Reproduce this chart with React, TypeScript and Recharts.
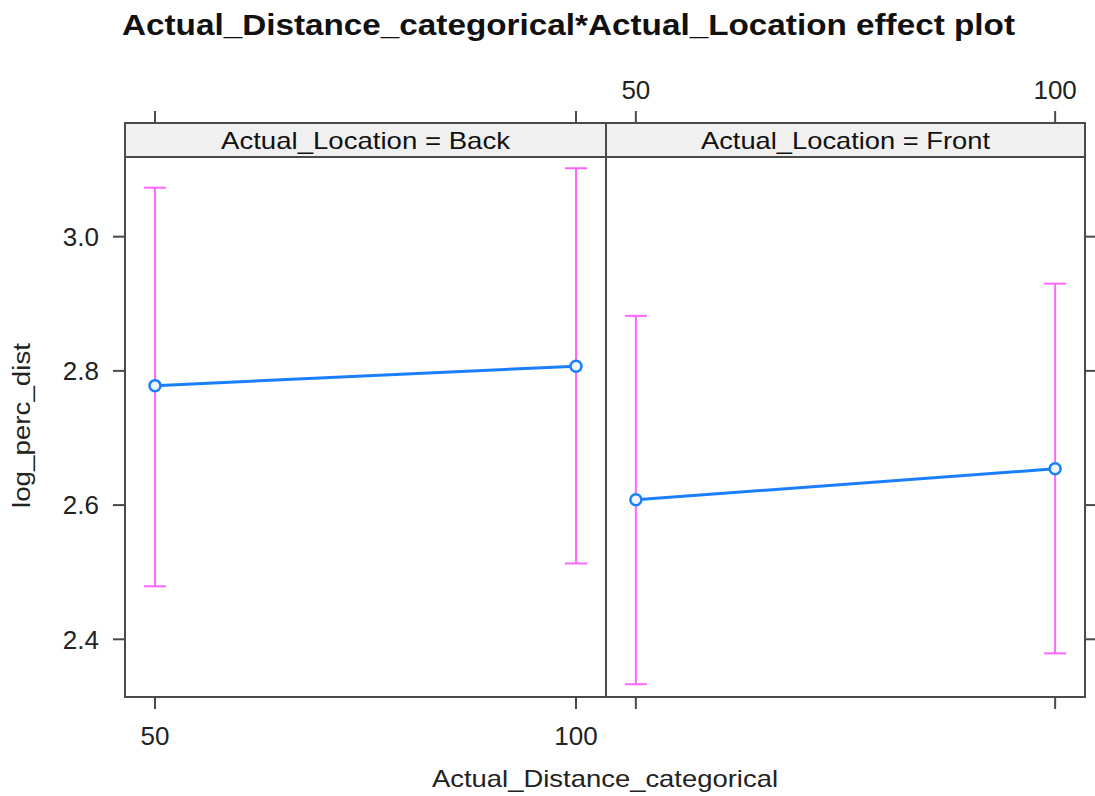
import React from "react";
import { ComposedChart, Line, XAxis, YAxis, ErrorBar, ReferenceArea } from "recharts";

// ---- data ----
const distances = [50, 100];
const backFit = [2.778, 2.807];
const backLower = [2.479, 2.513];
const backUpper = [3.073, 3.102];
const frontFit = [2.608, 2.654];
const frontLower = [2.333, 2.379];
const frontUpper = [2.882, 2.93];
const yTicks = [2.4, 2.6, 2.8, 3.0];
const xTicks = [50, 100];
const panelLabels = ["Actual_Location = Back", "Actual_Location = Front"];
const title = "Actual_Distance_categorical*Actual_Location effect plot";
const xLabel = "Actual_Distance_categorical";
const yLabel = "log_perc_dist";

const X_MIN = 46.44;
const X_MAX = 103.56;
const Y_MIN = 2.314;
const Y_MAX = 3.1694;
const STRIP_LOW = 3.1188;

const FONT = "'Liberation Sans', Arial, Helvetica, sans-serif";
const BORDER = "#4a4a4a";
const BLUE = "#1a7fff";
const MAGENTA = "#ff66ff";
const TICK_FS = 26;

const makeData = (fit: number[], lo: number[], up: number[]) =>
  distances.map((d, i) => ({ x: d, fit: fit[i], err: [fit[i] - lo[i], up[i] - fit[i]] }));

const backData = makeData(backFit, backLower, backUpper);
const frontData = makeData(frontFit, frontLower, frontUpper);

const noTick = () => <g />;

const leftYTick = (p: any) => (
  <text x={p.x} y={p.y} dy="0.36em" textAnchor="end" fontFamily={FONT} fontSize={TICK_FS} fill="#222">
    {Number(p.payload.value).toFixed(1)}
  </text>
);
const bottomXTick = (p: any) => (
  <text x={p.x} y={p.y} dy="0.72em" textAnchor="middle" fontFamily={FONT} fontSize={TICK_FS} fill="#222">
    {p.payload.value}
  </text>
);
const topXTick = (p: any) => (
  <text x={p.x} y={p.y} textAnchor="middle" fontFamily={FONT} fontSize={TICK_FS} fill="#222">
    {p.payload.value}
  </text>
);

const stripLabel = (text: string) => (props: any) => {
  const vb = props.viewBox || {};
  const cx = (vb.x ?? 0) + (vb.width ?? 0) / 2;
  const by = (vb.y ?? 0) + (vb.height ?? 0) / 2 + 9;
  return (
    <text
      x={cx}
      y={by}
      textAnchor="middle"
      fontFamily={FONT}
      fontSize={24}
      fill="#111"
      textLength={289}
      lengthAdjust="spacingAndGlyphs"
    >
      {text}
    </text>
  );
};

function Panel({ data, label, side }: { data: any[]; label: string; side: "left" | "right" }) {
  const isLeft = side === "left";
  const chartW = isLeft ? 620 : 520;
  const m = isLeft ? { top: 83, left: 55, right: 14, bottom: 59 } : { top: 83, left: 10, right: 11, bottom: 59 };
  const yId = isLeft ? "yl" : "yr";
  const tickLine = { stroke: BORDER, strokeWidth: 2 };
  return (
    <ComposedChart width={chartW} height={796} data={data} margin={m}>
      <XAxis
        xAxisId="bottom"
        dataKey="x"
        type="number"
        domain={[X_MIN, X_MAX]}
        ticks={xTicks}
        allowDataOverflow
        orientation="bottom"
        height={40}
        axisLine={false}
        tickLine={tickLine}
        tickSize={12}
        tickMargin={17}
        tick={isLeft ? bottomXTick : noTick}
      />
      <XAxis
        xAxisId="top"
        dataKey="x"
        type="number"
        domain={[X_MIN, X_MAX]}
        ticks={xTicks}
        allowDataOverflow
        orientation="top"
        height={40}
        axisLine={false}
        tickLine={tickLine}
        tickSize={12}
        tickMargin={12}
        tick={isLeft ? noTick : topXTick}
      />
      <YAxis
        yAxisId={yId}
        type="number"
        domain={[Y_MIN, Y_MAX]}
        ticks={yTicks}
        allowDataOverflow
        orientation={isLeft ? "left" : "right"}
        width={isLeft ? 70 : 20}
        axisLine={false}
        tickLine={tickLine}
        tickSize={12}
        tickMargin={14}
        tick={isLeft ? leftYTick : noTick}
      />
      <ReferenceArea
        xAxisId="bottom"
        yAxisId={yId}
        x1={X_MIN}
        x2={X_MAX}
        y1={STRIP_LOW}
        y2={Y_MAX}
        fill="#f0f0f0"
        fillOpacity={1}
        stroke={BORDER}
        strokeWidth={2}
        ifOverflow="visible"
        label={stripLabel(label)}
      />
      <ReferenceArea
        xAxisId="bottom"
        yAxisId={yId}
        x1={X_MIN}
        x2={X_MAX}
        y1={Y_MIN}
        y2={Y_MAX}
        fill="none"
        fillOpacity={0}
        stroke={BORDER}
        strokeWidth={2}
        ifOverflow="visible"
      />
      <Line
        xAxisId="top"
        yAxisId={yId}
        dataKey="fit"
        stroke="none"
        dot={false}
        activeDot={false}
        legendType="none"
        isAnimationActive={false}
      />
      <Line
        xAxisId="bottom"
        yAxisId={yId}
        dataKey="fit"
        stroke={BLUE}
        strokeWidth={3}
        dot={{ r: 5.5, stroke: BLUE, strokeWidth: 2.5, fill: "#eef5ff" }}
        isAnimationActive={false}
      >
        <ErrorBar dataKey="err" width={11} stroke={MAGENTA} strokeWidth={2} direction="y" />
      </Line>
    </ComposedChart>
  );
}

export default function App() {
  return (
    <div
      style={{
        position: "absolute",
        left: 0,
        top: 0,
        width: 1095,
        height: 796,
        overflow: "hidden",
        background: "#fff",
      }}
    >
      <div style={{ position: "absolute", left: 0, top: 0 }}>
        <Panel data={backData} label={panelLabels[0]} side="left" />
      </div>
      <div style={{ position: "absolute", left: 596, top: 0 }}>
        <Panel data={frontData} label={panelLabels[1]} side="right" />
      </div>
      <svg width={1095} height={796} style={{ position: "absolute", left: 0, top: 0, pointerEvents: "none" }}>
        <text
          x={568.5}
          y={35}
          textAnchor="middle"
          fontFamily={FONT}
          fontWeight="bold"
          fontSize={30}
          fill="#111"
          textLength={893}
          lengthAdjust="spacingAndGlyphs"
        >
          {title}
        </text>
        <text
          x={605}
          y={787}
          textAnchor="middle"
          fontFamily={FONT}
          fontSize={24}
          fill="#222"
          textLength={346}
          lengthAdjust="spacingAndGlyphs"
        >
          {xLabel}
        </text>
        <text
          x={30}
          y={425.5}
          transform="rotate(-90 30 425.5)"
          textAnchor="middle"
          fontFamily={FONT}
          fontSize={23}
          fill="#222"
          textLength={165}
          lengthAdjust="spacingAndGlyphs"
        >
          {yLabel}
        </text>
      </svg>
    </div>
  );
}
